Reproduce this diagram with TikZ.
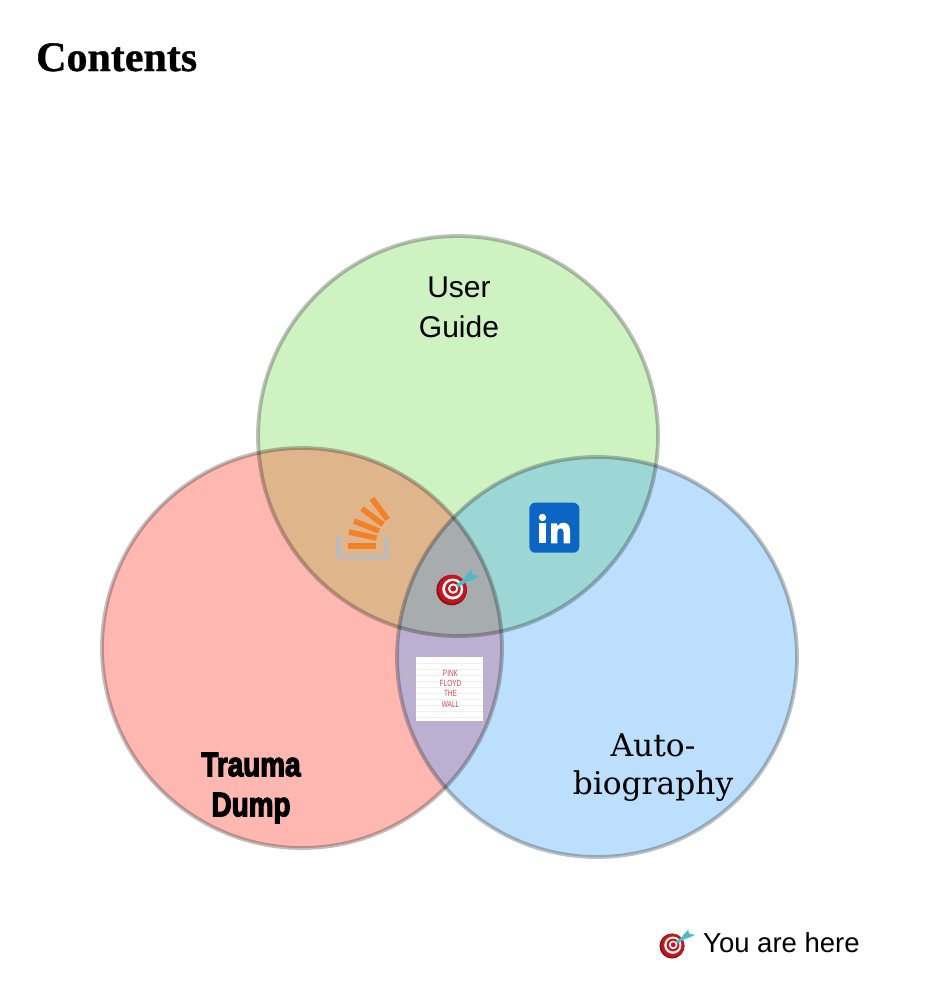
\documentclass[tikz,border=0pt]{standalone}
\usepackage{fontspec}
\setmainfont{Liberation Sans}
\newfontfamily\titlefont[FakeBold=0.8]{Liberation Serif Bold}
\newfontfamily\slabfont{DejaVu Serif}
\newfontfamily\heavyfont[FakeBold=4]{Liberation Sans Bold}
\definecolor{vgreen}{HTML}{CFF2C2}
\definecolor{vred}{HTML}{FFB7B1}
\definecolor{vblue}{HTML}{BBDFFC}
\definecolor{vrg}{HTML}{DFB68C}
\definecolor{vgb}{HTML}{9CD7D5}
\definecolor{vrb}{HTML}{BDAFCF}
\definecolor{vall}{HTML}{A7ACAE}
\definecolor{soorange}{HTML}{F58025}
\definecolor{sogray}{HTML}{BCBBBB}
\definecolor{lnblue}{HTML}{0A66C2}
\definecolor{boardred}{HTML}{C4161C}
\definecolor{boarddark}{HTML}{8E1116}
\definecolor{dartteal}{HTML}{4FB9C6}
\definecolor{wallred}{HTML}{C8505A}
\definecolor{brick}{HTML}{EFEFEF}
\tikzset{
  venn/.style={circle,minimum size=400bp,inner sep=0pt,outer sep=0pt,
    line width=3.8bp,draw=black,draw opacity=0.25},
  label text/.style={align=center,inner sep=0pt,text=black},
  sobar/.style={draw=soorange,line width=5.6bp},
  dartboard/.pic={
    \fill[boarddark] (0,0) circle[radius=15.3];
    \fill[boardred] (0.8,-0.8) circle[radius=14.2];
    \fill[white] (1,-1) circle[radius=10.5];
    \fill[boardred] (1.2,-1.2) circle[radius=7.8];
    \fill[white] (1.4,-1.4) circle[radius=5.2];
    \fill[boardred] (1.5,-1.5) circle[radius=3];
    \fill[dartteal] (4,-5) -- (16,-14) -- (18,-10) -- (7,-3) -- cycle;
    \fill[dartteal] (13,-13) -- (20,-20) -- (20.5,-15.5) -- (28,-13.5) -- (18,-9) -- cycle;
  },
}
\begin{document}
\begin{tikzpicture}[x=1bp,y=-1bp]
\useasboundingbox (0,0) rectangle (935,1000);
\fill[white] (0,0) rectangle (935,1000);
\fill[vgreen] (458,436) circle[radius=200];
\fill[vred] (302,648) circle[radius=200];
\fill[vblue] (597,657) circle[radius=200];
\begin{scope}
  \clip (458,436) circle[radius=200];
  \fill[vrg] (302,648) circle[radius=200];
  \fill[vgb] (597,657) circle[radius=200];
  \clip (302,648) circle[radius=200];
  \fill[vall] (597,657) circle[radius=200];
\end{scope}
\begin{scope}
  \clip (302,648) circle[radius=200];
  \clip (597,657) circle[radius=200];
  \fill[vrb] (230,600) rectangle (620,900);
  \clip (458,436) circle[radius=200];
  \fill[vall] (230,400) rectangle (620,900);
\end{scope}
\node[venn] (green) at (458,436) {};
\node[venn] (red) at (302,648) {};
\node[venn] (blue) at (597,657) {};
\node[anchor=base west,inner sep=0pt,font=\titlefont\fontsize{42bp}{46bp}\selectfont] (title) at (36,71) {Contents};
\node[label text,font=\fontsize{30bp}{40bp}\selectfont] (guide) at (459,307) {User\\Guide};
\node[label text,xscale=0.82,font=\heavyfont\fontsize{34bp}{40bp}\selectfont] (trauma) at (251,788) {Trauma\\Dump};
\node[label text,font=\slabfont\fontsize{31.3bp}{38bp}\selectfont] (auto) at (653,768) {Auto-\\biography};
\node[anchor=west,inner sep=0pt,font=\fontsize{27.5bp}{30bp}\selectfont] (here) at (703,943) {You are here};
% Stack Overflow icon
\draw[sogray,line width=4.6bp,line join=miter] (338.7,535) -- (338.7,557) -- (386.5,557) -- (386.5,537);
\draw[sobar] (348,546) -- (376,546);
\draw[sobar] (349,532) -- (376.5,538);
\draw[sobar] (354,521) -- (379,531);
\draw[sobar] (362,508.5) -- (383,524.5);
\draw[sobar] (372,498.5) -- (387.5,519.5);
% LinkedIn icon
\fill[lnblue,rounded corners=6bp] (529.3,502.7) rectangle (579.3,552.7);
\fill[white] (542.5,517.5) circle[radius=3.7];
\fill[white] (539.3,523.3) rectangle (546,543.3);
\fill[white] (551,523.3) -- (557.2,523.3) -- (557.2,526)
  .. controls (559,523.5) and (561.5,522.7) .. (563.5,522.7)
  .. controls (568,522.7) and (570,526) .. (570,531) -- (570,543.3) -- (563.5,543.3) -- (563.5,532)
  .. controls (563.5,529.5) and (562.5,528.3) .. (560.5,528.3)
  .. controls (558.5,528.3) and (557.4,529.5) .. (557.4,532) -- (557.4,543.3) -- (551,543.3) -- cycle;
% The Wall cover
\fill[white] (416,657.3) rectangle (483.3,720.7);
\foreach \yy in {663,669,675,681,687,693,699,705,711,717}
  \draw[brick,line width=0.4bp] (417,\yy) -- (482.5,\yy);
\node[inner sep=0pt,text=wallred,align=center,xscale=0.72,font=\fontsize{9bp}{10.4bp}\selectfont] (wall) at (450.5,688.5)
  {PINK\\FLOYD\\THE\\WALL};
% Targets
\pic at (451.7,590) {dartboard};
\pic[scale=0.82] at (672,946) {dartboard};
\end{tikzpicture}
\end{document}
